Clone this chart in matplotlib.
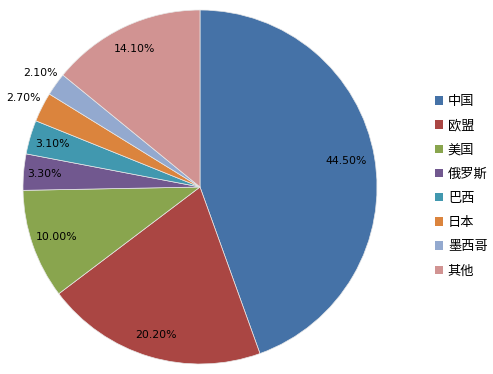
import numpy as np
import matplotlib.pyplot as plt
from matplotlib.patches import Patch

plt.rcParams['font.family'] = ['Noto Sans CJK SC', 'DejaVu Sans']

labels = ['中国', '欧盟', '美国', '俄罗斯', '巴西', '日本', '墨西哥', '其他']
values = [44.5, 20.2, 10.0, 3.3, 3.1, 2.7, 2.1, 14.1]
colors = ['#4572A7', '#AA4643', '#89A54E', '#71588F', '#4198AF', '#DB843D', '#93A9CF', '#D19392']
# label radius (fraction of pie radius) for each slice
label_r = [0.84, 0.875, 0.86, 0.88, 0.87, 1.12, 1.11, 0.86]

W, H = 493, 374
fig = plt.figure(figsize=(W / 100, H / 100), dpi=100)
cx, cy, r = 200, 187, 177
ax = fig.add_axes([(cx - r) / W, (H - cy - r) / H, 2 * r / W, 2 * r / H])

wedges, _ = ax.pie(values, colors=colors, startangle=90, counterclock=False,
                   wedgeprops=dict(edgecolor='#e8e8e8', linewidth=0.5))
ax.set_xlim(-1, 1)
ax.set_ylim(-1, 1)
ax.set_aspect('equal')

for w, v, lr in zip(wedges, values, label_r):
    ang = np.deg2rad((w.theta1 + w.theta2) / 2)
    ax.text(lr * np.cos(ang), lr * np.sin(ang), f'{v:.2f}%',
            ha='center', va='center', fontsize=7.8, family='DejaVu Sans', color='black')

handles = [Patch(facecolor=c, edgecolor='none') for c in colors]
fig.legend(handles, labels, loc='upper left', bbox_to_anchor=(435 / W, 1 - 95 / H),
           frameon=False, fontsize=9.5, handlelength=0.62, handleheight=0.62,
           handletextpad=0.35, labelspacing=0.85, borderpad=0, borderaxespad=0)

fig.savefig('out.png', dpi=100)
